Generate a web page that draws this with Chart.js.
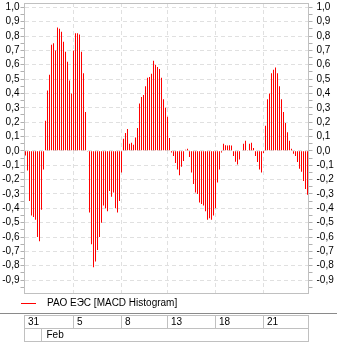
<!DOCTYPE html>
<html>
<head>
<meta charset="utf-8">
<script src="https://cdn.jsdelivr.net/npm/chart.js@4.4.1/dist/chart.umd.min.js"></script>
<style>
  html, body { margin: 0; padding: 0; background: #fff; }
  canvas { display: block; }
</style>
</head>
<body>
<canvas id="macd-chart" width="337" height="346"></canvas>
<script>
const seriesLabel = 'РАО ЕЭС [MACD Histogram]';

// one bar per period
const histogramValues = [
  -0.033, -0.137, -0.35, -0.45, -0.46, -0.48, -0.60, -0.63, -0.41, -0.13,
  0.21, 0.42, 0.53, 0.74, 0.75, 0.70, 0.86, 0.85, 0.83, 0.76, 0.69, 0.62, 0.49, 0.40,
  0.70, 0.82, 0.82, 0.81, 0.69, 0.54, 0.27,
  -0.005,
  -0.43, -0.65, -0.81, -0.77, -0.69, -0.60, -0.50, -0.38, -0.40, -0.42, -0.28, -0.32,
  -0.29, -0.40, -0.43, -0.35, -0.15,
  0.084, 0.125, 0.153, 0.049, 0.056, 0.042, 0.093, 0.16, 0.33, 0.376, 0.39, 0.45,
  0.51, 0.515, 0.537, 0.627, 0.60, 0.585, 0.571, 0.51, 0.36, 0.30, 0.237, 0.09,
  -0.012, -0.035, -0.084, -0.13, -0.17, -0.11, -0.07, 0.007, 0.014, -0.042, -0.15, -0.23,
  -0.29, -0.30, -0.36, -0.37, -0.38, -0.42, -0.48, -0.47, -0.48, -0.45, -0.40, -0.22,
  -0.13, -0.012,
  0.049, 0.04, 0.037, 0.04, 0.037,
  -0.035, -0.075, -0.095, -0.06,
  0.005, 0.05, 0.07, 0.003, 0.05, 0.056, 0.02,
  -0.035, -0.077, -0.13, -0.15, -0.015,
  0.175, 0.36, 0.40, 0.54, 0.565, 0.58, 0.54, 0.45, 0.36, 0.27, 0.195, 0.13, 0.07, 0.014,
  -0.02, -0.035, -0.077, -0.125, -0.145, -0.21, -0.265, -0.306
];
const periodLabels = histogramValues.map((v, i) => String(i));

const dayLabels = ['31', '5', '8', '13', '18', '21'];
const dayStartIndex = [0, 24, 48, 71, 95, 119];
const monthLabels = ['', 'Feb'];
const monthStartIndex = [0, 8];

const yMin = -0.99;
const yMax = 1.03;

const FONT = 'Liberation Sans, Arial, sans-serif';

function isMajor(value) {
  return Math.abs(Math.round(value * 100)) % 10 === 0;
}

function formatTick(value) {
  if (!isMajor(value)) return '';
  if (Math.abs(value) < 1e-9) return '0,0';
  return value.toFixed(1).replace('.', ',');
}

const footerPlugin = {
  id: 'footerPlugin',
  afterDraw(chart) {
    const { ctx, chartArea } = chart;
    const xScale = chart.scales.x;
    const left = Math.floor(chartArea.left) + 0.5;
    const right = Math.floor(chartArea.right) + 0.5;
    const top = Math.floor(chartArea.top) + 0.5;
    const bottom = Math.floor(chartArea.bottom) + 0.5;
    const width = chart.width;

    ctx.save();
    // plot frame
    ctx.strokeStyle = '#c0c0c0';
    ctx.lineWidth = 1;
    ctx.strokeRect(left, top, right - left, bottom - top);

    // legend
    ctx.strokeStyle = chart.data.datasets[0].backgroundColor;
    ctx.beginPath();
    ctx.moveTo(21, 303.5);
    ctx.lineTo(36, 303.5);
    ctx.stroke();
    ctx.fillStyle = '#000';
    ctx.font = `10px ${FONT}`;
    ctx.textBaseline = 'middle';
    ctx.textAlign = 'left';
    ctx.fillText(chart.data.datasets[0].label, 47, 303);

    // separator
    ctx.strokeStyle = '#8a8a8a';
    ctx.beginPath();
    ctx.moveTo(0, 313.5);
    ctx.lineTo(width, 313.5);
    ctx.stroke();

    // date table
    const row1Top = 315.5;
    const row2Top = 328.5;
    const tableBottom = 341.5;
    ctx.strokeStyle = '#c0c0c0';
    ctx.strokeRect(left, row1Top, right - left, tableBottom - row1Top);
    ctx.beginPath();
    ctx.moveTo(left, row2Top);
    ctx.lineTo(right, row2Top);
    ctx.stroke();

    dayLabels.forEach((label, i) => {
      const x = i === 0 ? left : Math.floor(xScale.getPixelForValue(dayStartIndex[i])) + 0.5;
      if (i > 0) {
        ctx.beginPath();
        ctx.moveTo(x, row1Top);
        ctx.lineTo(x, row2Top);
        ctx.stroke();
      }
      ctx.fillText(label, x + 3.5, (row1Top + row2Top) / 2);
    });
    monthLabels.forEach((label, i) => {
      const x = i === 0 ? left : Math.floor(xScale.getPixelForValue(monthStartIndex[i])) + 0.5;
      if (i > 0) {
        ctx.beginPath();
        ctx.moveTo(x, row2Top);
        ctx.lineTo(x, tableBottom);
        ctx.stroke();
      }
      if (label) ctx.fillText(label, x + 5, (row2Top + tableBottom) / 2);
    });
    ctx.restore();
  }
};

Chart.defaults.font.family = FONT;
Chart.defaults.font.size = 10;
Chart.defaults.color = '#000';

const yTicks = {
  stepSize: 0.05,
  includeBounds: false,
  autoSkip: false,
  callback: formatTick
};

const chartCanvas = document.getElementById('macd-chart');
const chart = new Chart(chartCanvas, { /* eslint-disable-line no-unused-vars */
  type: 'bar',
  data: {
    labels: periodLabels,
    datasets: [
      {
        label: seriesLabel,
        data: histogramValues,
        backgroundColor: '#ff0000',
        borderWidth: 0,
        barThickness: 1,
        inflateAmount: 0,
        yAxisID: 'y'
      }
    ]
  },
  options: {
    responsive: false,
    devicePixelRatio: 1,
    animation: false,
    events: [],
    layout: { padding: { top: 3, left: 0, right: 0, bottom: 0 } },
    plugins: {
      legend: { display: false },
      tooltip: { enabled: false }
    },
    scales: {
      x: {
        type: 'category',
        offset: true,
        ticks: { display: false, autoSkip: false },
        grid: {
          offset: false,
          drawTicks: false,
          color: (ctx) => (dayStartIndex.slice(1).includes(ctx.index) ? '#e0e0e0' : 'rgba(0,0,0,0)')
        },
        border: { display: false, dash: [4, 3] },
        afterFit(scale) {
          scale.height = 53;
          scale.paddingLeft = 0;
          scale.paddingRight = 0;
        }
      },
      y: {
        position: 'left',
        min: yMin,
        max: yMax,
        ticks: { ...yTicks, padding: 1 },
        grid: {
          color: (ctx) => (ctx.tick && isMajor(ctx.tick.value) ? '#e0e0e0' : 'rgba(0,0,0,0)'),
          tickColor: '#b0b0b0',
          tickLength: 4
        },
        border: { display: false, dash: [4, 3] },
        afterFit(scale) {
          scale.width = 24.5;
          scale.paddingTop = 0;
          scale.paddingBottom = 0;
        }
      },
      yRight: {
        position: 'right',
        min: yMin,
        max: yMax,
        ticks: { ...yTicks, padding: 4 },
        grid: {
          drawOnChartArea: false,
          tickColor: '#b0b0b0',
          tickLength: 4
        },
        border: { display: false },
        afterFit(scale) {
          scale.width = 28.5;
          scale.paddingTop = 0;
          scale.paddingBottom = 0;
        }
      }
    }
  },
  plugins: [footerPlugin]
});
</script>
</body>
</html>
